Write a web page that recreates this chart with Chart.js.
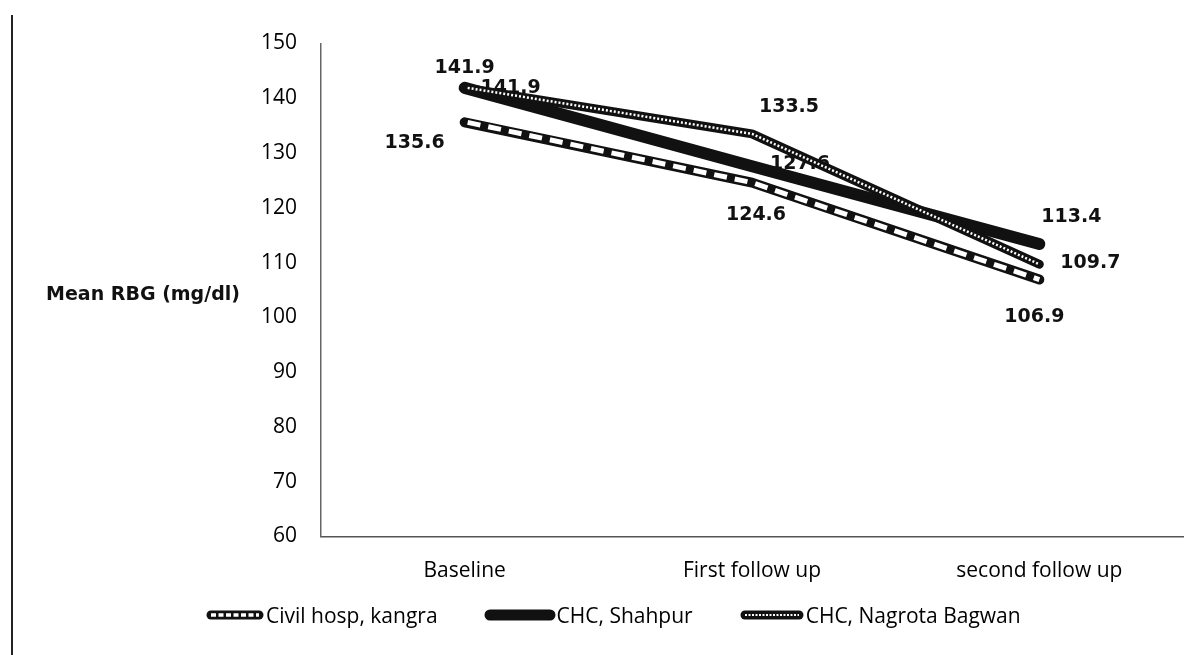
<!DOCTYPE html>
<html lang="en">
<head>
    <meta charset="UTF-8">
    <title>Mean RBG</title>
    <script src="https://cdn.jsdelivr.net/npm/chart.js"></script>
    <style>
        body {
            margin: 0;
            padding: 0;
            background-color: #ffffff;
            font-family: 'Open Sans', sans-serif;
        }
        .wrap {
            position: relative;
            width: 1195px;
            height: 655px;
            overflow: hidden;
        }
        .edge {
            position: absolute;
            left: 11px;
            top: 15px;
            bottom: 0;
            border-left: 2px solid #222;
        }
        .legend {
            position: absolute;
            left: 205px;
            top: 601px;
            display: flex;
            align-items: center;
            font-size: 21px;
            color: #000;
        }
        .legend .item {
            display: flex;
            align-items: center;
            margin-right: 46px;
        }
        .legend canvas {
            display: block;
            margin-right: 1px;
        }
    </style>
</head>
<body>
<div class="wrap">
    <div class="edge"></div>
    <canvas id="rbgChart" width="1195" height="655"></canvas>
    <div class="legend" id="legend"></div>
</div>

<script>
    const categories = ['Baseline', 'First follow up', 'second follow up'];
    const civilKangra = [135.6, 124.6, 106.9];
    const chcShahpur = [141.9, 127.6, 113.4];
    const chcNagrota = [141.9, 133.5, 109.7];
    const yMin = 60;
    const yMax = 150;
    const yStep = 10;

    // how each series is stroked on top of its black line, and where its value labels go
    const seriesStyle = [
        { name: 'Civil hosp, kangra', width: 10, sample: 60, overlay: { dash: [13, 8], width: 5 }, offsets: [[-50, 21], [4, 32], [-5, 37]] },
        { name: 'CHC, Shahpur', width: 12, sample: 72, overlay: null, offsets: [[46, 0], [48, -2], [32, -27]] },
        { name: 'CHC, Nagrota Bagwan', width: 9, sample: 66, overlay: { dash: [2, 2], width: 2.5 }, offsets: [[0, -20], [37, -27], [51, -1]] }
    ];
    const seriesData = [civilKangra, chcShahpur, chcNagrota];

    const lineOverlay = {
        id: 'lineOverlay',
        afterDatasetDraw(chart, args) {
            const st = seriesStyle[args.index];
            const pts = args.meta.data;
            const ctx = chart.ctx;
            if (st.overlay) {
                ctx.save();
                ctx.strokeStyle = '#ffffff';
                ctx.lineWidth = st.overlay.width;
                ctx.setLineDash(st.overlay.dash);
                ctx.lineJoin = 'round';
                ctx.beginPath();
                pts.forEach((p, i) => i === 0 ? ctx.moveTo(p.x + 3, p.y) : ctx.lineTo(p.x, p.y));
                ctx.stroke();
                ctx.restore();
            }
            // value labels
            ctx.save();
            ctx.font = 'bold 19px "DejaVu Sans"';
            ctx.fillStyle = '#111';
            ctx.textAlign = 'center';
            ctx.textBaseline = 'middle';
            pts.forEach((p, i) => {
                const v = seriesData[args.index][i];
                const o = st.offsets[i];
                ctx.fillText(v.toFixed(1), p.x + o[0], p.y + o[1]);
            });
            ctx.restore();
        },
        afterDraw(chart) {
            const ctx = chart.ctx;
            ctx.save();
            ctx.font = 'bold 19px "DejaVu Sans"';
            ctx.fillStyle = '#111';
            ctx.textAlign = 'center';
            ctx.textBaseline = 'middle';
            ctx.fillText('Mean RBG (mg/dl)', 143, 295);
            ctx.restore();
        }
    };

    const datasets = seriesData.map((d, i) => ({
        label: seriesStyle[i].name,
        data: d,
        borderColor: '#111',
        backgroundColor: '#111',
        borderWidth: seriesStyle[i].width,
        borderCapStyle: 'round',
        borderJoinStyle: 'round',
        pointRadius: 0,
        tension: 0,
        order: 2 - i
    }));

    const rbgChart = new Chart(document.getElementById('rbgChart'), {
        type: 'line',
        data: { labels: categories, datasets: datasets },
        options: {
            responsive: false,
            maintainAspectRatio: false,
            animation: false,
            devicePixelRatio: 1,
            layout: { padding: { left: 0, right: 12, top: 43.5, bottom: 58.5 } },
            plugins: {
                legend: { display: false },
                tooltip: { enabled: false }
            },
            scales: {
                x: {
                    offset: true,
                    grid: { display: false, drawTicks: false, offset: true },
                    border: { display: true, color: '#555', width: 1.5 },
                    ticks: { color: '#000', padding: 22, maxRotation: 0, font: { family: 'Open Sans', size: 21 } },
                    afterFit(scale) { scale.height = 60; }
                },
                y: {
                    min: yMin,
                    max: yMax,
                    grid: { display: false, drawTicks: false },
                    border: { display: true, color: '#666', width: 1.5, dash: [2, 1] },
                    ticks: { stepSize: yStep, color: '#000', padding: 24, font: { family: 'Open Sans', size: 21 } },
                    afterFit(scale) { scale.width = 321; }
                }
            }
        },
        plugins: [lineOverlay]
    });

    // legend with drawn samples
    const legendBox = document.getElementById('legend');
    seriesStyle.forEach((st, i) => {
        const item = document.createElement('div');
        item.className = 'item';
        const c = document.createElement('canvas');
        c.width = st.sample;
        c.height = 14;
        const g = c.getContext('2d');
        const x1 = st.sample - 6;
        g.lineCap = 'round';
        g.strokeStyle = '#111';
        g.lineWidth = i === 1 ? 11 : 9;
        g.beginPath();
        g.moveTo(6, 7);
        g.lineTo(x1, 7);
        g.stroke();
        if (st.overlay) {
            g.strokeStyle = '#fff';
            g.lineCap = 'butt';
            g.lineWidth = i === 0 ? 3.5 : 2;
            g.setLineDash(i === 0 ? [5, 2.5] : [2, 1.5]);
            g.beginPath();
            g.moveTo(6, 7);
            g.lineTo(x1, 7);
            g.stroke();
        }
        const t = document.createElement('span');
        t.textContent = st.name;
        item.appendChild(c);
        item.appendChild(t);
        legendBox.appendChild(item);
    });
</script>
</body>
</html>
